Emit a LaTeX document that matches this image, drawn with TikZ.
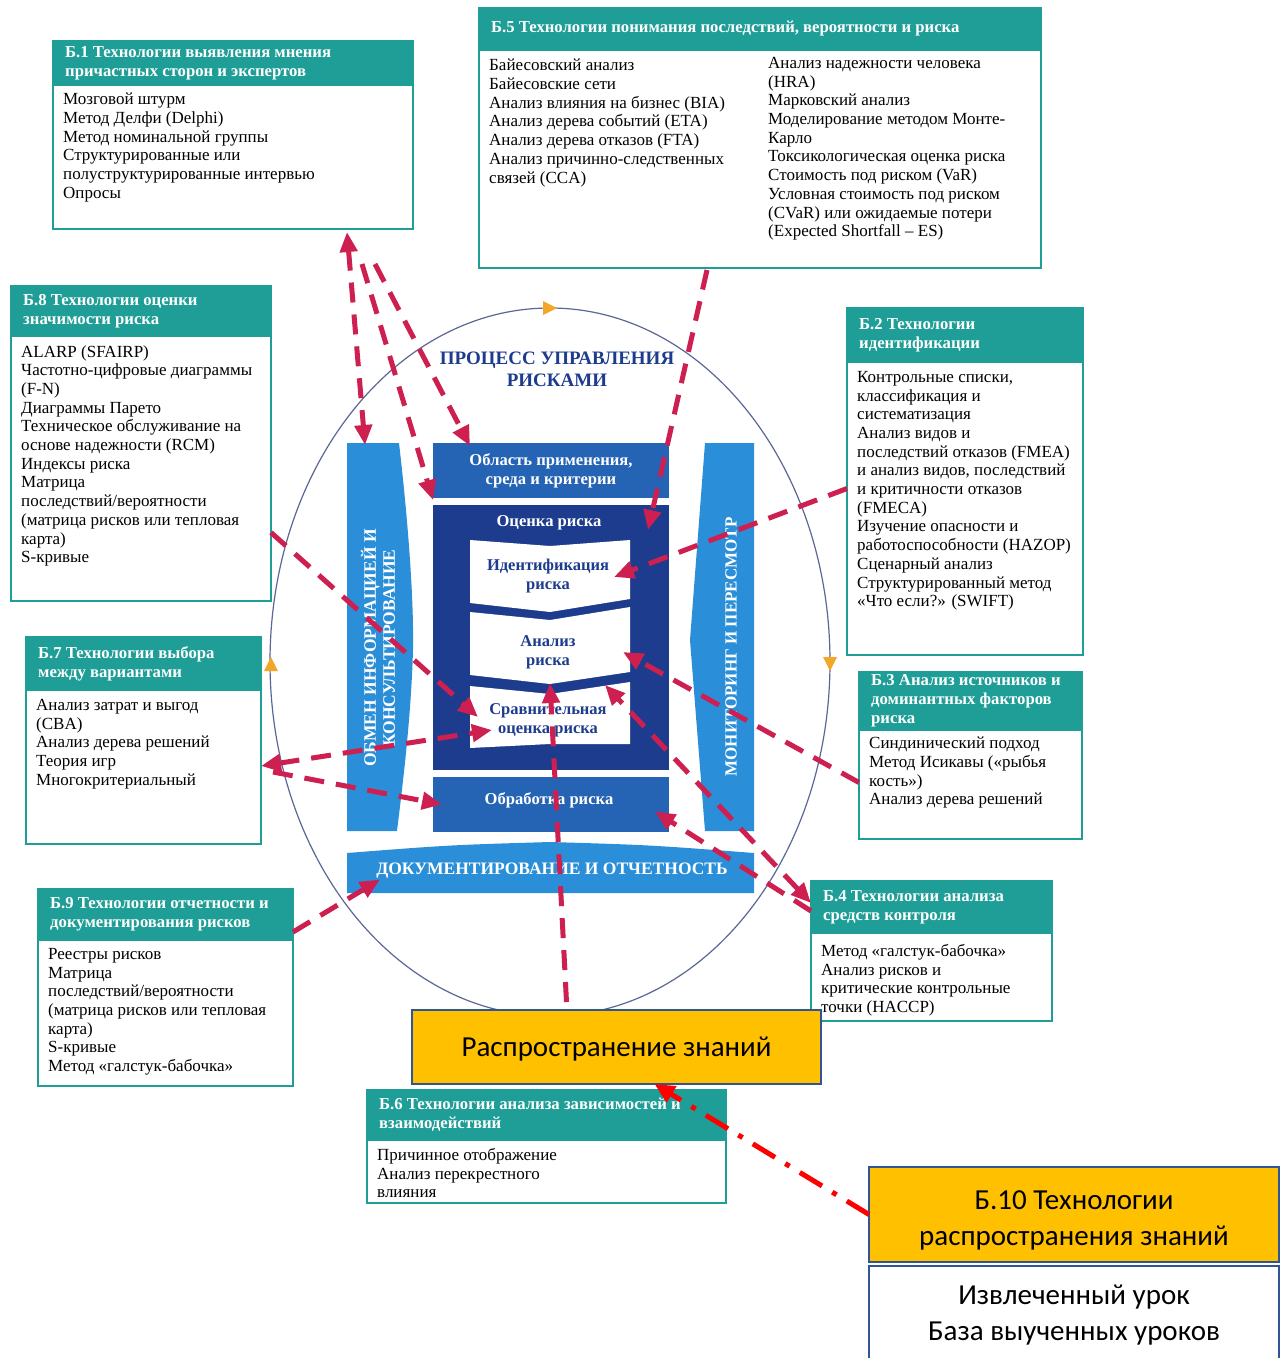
\documentclass[tikz,border=0pt]{standalone}
\usepackage{fontspec}
\setmainfont{Liberation Serif}
\newfontfamily\calib{Carlito}
\usetikzlibrary{arrows.meta}
\definecolor{teal1}{HTML}{1F9E98}
\definecolor{lblue}{HTML}{2A8FD8}
\definecolor{mblue}{HTML}{2563B5}
\definecolor{navy}{HTML}{1E3C8E}
\definecolor{arr}{HTML}{CD1F50}
\definecolor{gold}{HTML}{FFC000}
\definecolor{bord}{HTML}{2F5597}
\definecolor{ell}{HTML}{5B6796}
\definecolor{orng}{HTML}{F4A629}
\newcommand{\tbx}[9]{%
  \node[hdr, minimum width=#4pt, minimum height=#5pt] (#1h) at (#2,#3) {};
  \node[bdy, minimum width=#4pt, minimum height=#6pt] (#1) at (#1h.south west) {};
  \node[htxt] (#1ht) at ([xshift=12pt]#1h.west) {#7};
  \node[btxt] (#1bt) at ([xshift=10pt,yshift=-#9pt]#1.north west) {#8};
}
\begin{document}
\begin{tikzpicture}[x=1pt,y=-1pt,
  >={Triangle[length=20pt,width=17pt]},
  hdr/.style={draw=teal1, fill=teal1, line width=1.5pt, inner sep=0pt, outer sep=0pt, anchor=north west},
  bdy/.style={draw=teal1, fill=white, line width=2pt, inner sep=0pt, outer sep=0pt, anchor=north west},
  htxt/.style={text=white, font=\bfseries\fontsize{16.7}{19}\selectfont, align=left, inner sep=0pt, anchor=west},
  btxt/.style={text=black, font=\fontsize{17}{18.7}\selectfont, align=left, inner sep=0pt, anchor=north west},
  area/.style={inner sep=0pt, outer sep=0pt, anchor=north west},
  wtxt/.style={text=white, font=\bfseries\fontsize{16.6}{19}\selectfont, align=center, inner sep=0pt},
  ntxt/.style={text=navy, font=\bfseries\fontsize{16.5}{19}\selectfont, align=center, inner sep=0pt},
  link/.style={draw=arr, line width=5pt, dash pattern=on 20pt off 12pt},
  kbox/.style={draw=bord, fill=gold, line width=2.5pt, inner sep=0pt, outer sep=0pt, anchor=north west},
  ktxt/.style={font=\calib\fontsize{29}{36}\selectfont, align=center, inner sep=0pt},
]
\useasboundingbox[fill=white] (0,0) rectangle (1285,1358);

% cycle ellipse
\draw[ell, line width=1.2pt] (550,662) ellipse [x radius=280pt, y radius=354pt];
\fill[orng] (543,301) -- (557,308) -- (543,315) -- cycle;
\fill[orng] (823,657) -- (837,657) -- (830,671) -- cycle;
\fill[orng] (264,671) -- (278,671) -- (271,657) -- cycle;

% technique boxes
\tbx{b1}{53}{41}{360}{44}{144}{Б.1 Технологии выявления мнения\\причастных сторон и экспертов}{Мозговой штурм\\Метод Делфи (Delphi)\\Метод номинальной группы\\Структурированные или\\полуструктурированные интервью\\Опросы}{8}
\tbx{b5}{479}{8}{562}{42}{218}{Б.5 Технологии понимания последствий, вероятности и риска}{Байесовский анализ\\Байесовские сети\\Анализ влияния на бизнес (BIA)\\Анализ дерева событий (ETA)\\Анализ дерева отказов (FTA)\\Анализ причинно-следственных\\связей (CCA)}{9}
\node[btxt] (b5bt2) at ([xshift=289pt,yshift=-7pt]b5.north west) {Анализ надежности человека\\(HRA)\\Марковский анализ\\Моделирование методом Монте-\\Карло\\Токсикологическая оценка риска\\Стоимость под риском (VaR)\\Условная стоимость под риском\\(CVaR) или ожидаемые потери\\(Expected Shortfall – ES)};
\tbx{b8}{11}{286}{260}{50}{265}{Б.8 Технологии оценки\\значимости риска}{ALARP (SFAIRP)\\Частотно-цифровые диаграммы\\(F-N)\\Диаграммы Парето\\Техническое обслуживание на\\основе надежности (RCM)\\Индексы риска\\Матрица\\последствий/вероятности\\(матрица рисков или тепловая\\карта)\\S-кривые}{9}
\tbx{b2}{847}{308}{236}{54}{293}{Б.2 Технологии\\идентификации}{Контрольные списки,\\классификация и\\систематизация\\Анализ видов и\\последствий отказов (FMEA)\\и анализ видов, последствий\\и критичности отказов\\(FMECA)\\Изучение опасности и\\работоспособности (HAZOP)\\Сценарный анализ\\Структурированный метод\\«Что если?» (SWIFT)}{9}
\tbx{b7}{26}{637}{235}{53}{154}{Б.7 Технологии выбора\\между вариантами}{Анализ затрат и выгод\\(CBA)\\Анализ дерева решений\\Теория игр\\Многокритериальный}{9}
\tbx{b3}{859}{672}{223}{58}{109}{Б.3 Анализ источников и\\доминантных факторов\\риска}{Синдинический подход\\Метод Исикавы («рыбья\\кость»)\\Анализ дерева решений}{7}
\tbx{b9}{38}{889}{255}{51}{146}{Б.9 Технологии отчетности и\\документирования рисков}{Реестры рисков\\Матрица\\последствий/вероятности\\(матрица рисков или тепловая\\карта)\\S-кривые\\Метод «галстук-бабочка»}{8}
\tbx{b4}{811}{881}{241}{52}{88}{Б.4 Технологии анализа\\средств контроля}{Метод «галстук-бабочка»\\Анализ рисков и\\критические контрольные\\точки (HACCP)}{11}
\tbx{b6}{367}{1090}{359}{50}{63}{Б.6 Технологии анализа зависимостей и\\взаимодействий}{Причинное отображение\\Анализ перекрестного\\влияния}{8}

% central process
\fill[lblue] (347,443) -- (399,443) .. controls (408,520) and (414,600) .. (413,650) .. controls (411,720) and (402,790) .. (397,831) -- (347,831) -- cycle;
\node[area, minimum width=66pt, minimum height=388pt] (lbar) at (347,443) {};
\node[wtxt, rotate=90, font=\bfseries\fontsize{17.5}{19}\selectfont] (lbart) at (378,648) {ОБМЕН ИНФОРМАЦИЕЙ И\\КОНСУЛЬТИРОВАНИЕ};

\fill[lblue] (705,443) -- (754,443) -- (754,831) -- (705,831) -- (690,640) -- cycle;
\node[area, minimum width=64pt, minimum height=388pt] (rbar) at (690,443) {};
\node[wtxt, rotate=90, font=\bfseries\fontsize{17}{19}\selectfont] (rbart) at (731,647) {МОНИТОРИНГ И ПЕРЕСМОТР};

\node[area, fill=mblue, minimum width=236pt, minimum height=55pt] (scope) at (433,443) {};
\node[wtxt] (scopet) at (scope.center) {Область применения,\\среда и критерии};
\node[area, fill=navy, minimum width=236pt, minimum height=265pt] (assess) at (433,505) {};
\node[wtxt] (assesst) at (549,523) {Оценка риска};

\fill[white] (470,540) -- (550,546) -- (630,540) -- (630,599) -- (550,612) -- (470,603) -- cycle;
\fill[white] (470,612) -- (550,620) -- (630,607) -- (630,672) -- (550,684) -- (470,675) -- cycle;
\fill[white] (470,686) -- (550,694) -- (630,682) -- (630,744) -- (550,744) -- (470,748) -- cycle;
\node[area, minimum width=160pt, minimum height=70pt] (p1) at (470,540) {};
\node[ntxt] (p1t) at (548,576) {Идентификация\\риска};
\node[area, minimum width=160pt, minimum height=68pt] (p2) at (470,612) {};
\node[ntxt] (p2t) at (548,652) {Анализ\\риска};
\node[area, minimum width=160pt, minimum height=62pt] (p3) at (470,686) {};
\node[ntxt] (p3t) at (548,720) {Сравнительная\\оценка риска};

\node[area, fill=mblue, minimum width=236pt, minimum height=55pt] (treat) at (433,777) {};
\node[wtxt] (treatt) at (549,800) {Обработка риска};

\fill[lblue] (347,853) .. controls (450,845) .. (550,842) .. controls (650,845) .. (754,853) -- (754,893) -- (347,893) -- cycle;
\node[area, minimum width=407pt, minimum height=41pt] (doc) at (347,852) {};
\node[wtxt, font=\bfseries\fontsize{17.5}{19}\selectfont] (doct) at (552,871) {ДОКУМЕНТИРОВАНИЕ И ОТЧЕТНОСТЬ};

\node[ntxt, font=\bfseries\fontsize{19}{22}\selectfont] (title) at (557,369) {ПРОЦЕСС УПРАВЛЕНИЯ\\РИСКАМИ};

% knowledge boxes
\node[kbox, minimum width=409pt, minimum height=74pt] (kn) at (412,1010) {};
\node[ktxt] (knt) at ([yshift=-2pt]kn.center) {Распространение знаний};
\node[kbox, minimum width=410pt, minimum height=95pt] (b10h) at (869,1167) {};
\node[draw=bord, fill=white, line width=2.5pt, inner sep=0pt, outer sep=0pt, anchor=north west, minimum width=410pt, minimum height=96pt] (b10) at (869,1266) {};
\node[ktxt] (b10ht) at ([yshift=-6pt]b10h.center) {Б.10 Технологии\\распространения знаний};
\node[ktxt] (b10t) at (1074,1315) {Извлеченный урок\\База выученных уроков};

% connectors
\draw[link,<->] ([xshift=114pt,yshift=-3pt]b1.south) -- ([xshift=18pt,yshift=-2pt]lbar.north west);
\draw[link,->] ([xshift=129pt,yshift=-35pt]b1.south) -- ([yshift=-2pt]scope.south west);
\draw[link,->] ([xshift=142pt,yshift=-35pt]b1.south) -- ([xshift=37pt,yshift=-3pt]scope.north west);
\draw[link,->] ([xshift=-53pt,yshift=-2pt]b5.south) -- ([xshift=-21pt,yshift=-25pt]assess.north east);
\draw[link,->] ([yshift=20pt]b2.west) -- ([xshift=-16pt,yshift=-2pt]p1.east);
\draw[link,->] ([yshift=2pt]b3.west) -- ([xshift=-7pt,yshift=-6pt]p2.east);
\draw[link,<->] ([yshift=4pt]b4h.west) -- ([xshift=-25pt,yshift=1pt]p3.north east);
\draw[link,->] ([yshift=-4pt]b4h.west) -- ([xshift=-14pt,yshift=-7pt]treat.east);
\draw[link,->] ([yshift=-64pt]b8.east) -- ([xshift=8pt]p3.west);
\draw[link,<->] ([yshift=1pt]b7.east) -- ([xshift=22pt,yshift=-13pt]p3.west);
\draw[link,->] ([xshift=12pt,yshift=-5pt]b7.east) -- ([xshift=9pt]treat.west);
\draw[link,->] ([yshift=8pt]b9h.south east) -- ([xshift=33pt,yshift=-7pt]doc.west);
\draw[link,->] ([xshift=-50pt,yshift=8pt]kn.north) -- ([yshift=-3pt]p2.south);
\draw[draw=red, line width=5pt, dash pattern=on 26pt off 12pt on 5pt off 12pt, -{Triangle[length=20pt,width=18pt]}] (b10h.west) -- ([xshift=38pt]kn.south);
\end{tikzpicture}
\end{document}
